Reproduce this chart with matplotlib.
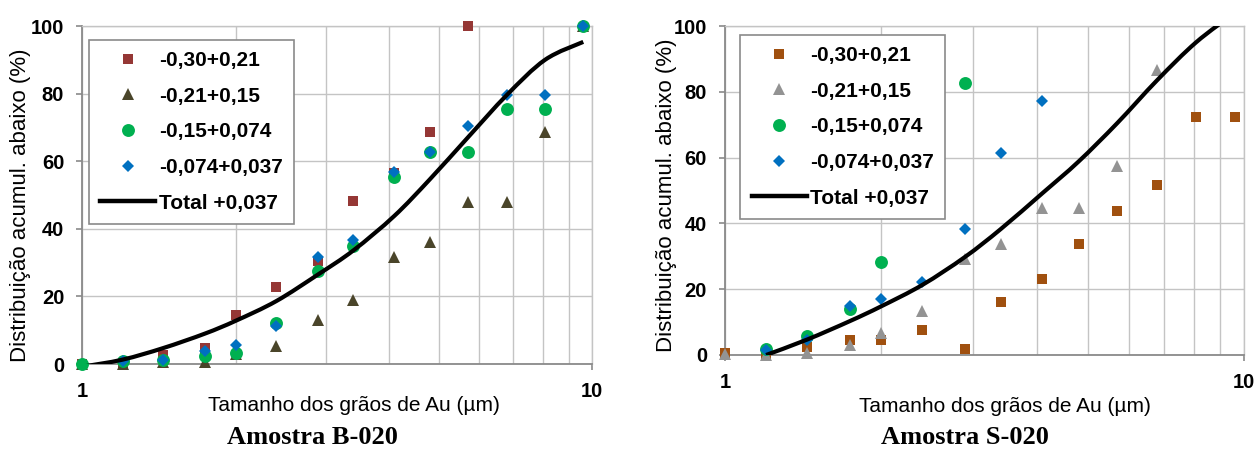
import numpy as np
import matplotlib.pyplot as plt
from matplotlib.path import Path
from matplotlib.patches import PathPatch
from matplotlib.lines import Line2D
from matplotlib.ticker import FixedLocator, NullFormatter

nan = float("nan")

#---------------------------- data ----------------------------
# grain size classes (um), shared by both samples
sizes_um = [1.0, 1.2, 1.44, 1.74, 2.0, 2.4, 2.9, 3.4, 4.09, 4.8, 5.7, 6.8, 8.08, 9.6]

series_labels = ["-0,30+0,21", "-0,21+0,15", "-0,15+0,074", "-0,074+0,037"]
total_label = "Total +0,037"

# Amostra B-020
b020_030_021 = [0, 0, 2.8, 4.7, 14.6, 22.7, 30.6, 48.3, 56.4, 68.7, 100, nan, nan, nan]
b020_021_015 = [0, 0, 0.5, 0.5, 3.0, 5.2, 12.9, 19.0, 31.8, 36.2, 48.0, 48.0, 68.7, 100]
b020_015_0074 = [0, 0.8, 1.3, 2.3, 3.4, 12.1, 27.4, 34.9, 55.2, 62.6, 62.6, 75.4, 75.4, 100]
b020_0074_0037 = [nan, 0.8, 1.3, 3.7, 5.7, 11.3, 31.8, 36.7, 56.9, 62.8, 70.4, 79.7, 79.7, 100]
b020_total = [-0.8, 1.3, 4.7, 9.0, 12.8, 18.6, 26.5, 33.6, 43.8, 54.6, 67.0, 79.6, 90.0, 95.3]

# Amostra S-020
s020_030_021 = [0.5, 0, 2.4, 4.7, 4.5, 7.5, 1.9, 16.2, 23.1, 33.7, 43.7, 51.6, 72.4, 72.4]
s020_021_015 = [0.2, 0, 0.7, 3.0, 6.8, 13.3, 29.3, 33.7, 44.6, 44.6, 57.3, 86.6, nan, nan]
s020_015_0074 = [nan, 1.9, 5.8, 14.1, 28.3, nan, 82.7, nan, nan, nan, nan, nan, nan, nan]
s020_0074_0037 = [nan, 1.5, 4.7, 14.8, 16.9, 22.2, 38.4, 61.5, 77.3, nan, nan, nan, nan, nan]
s020_total = [nan, 0, 4.7, 10.3, 14.8, 21.3, 29.8, 38.3, 49.2, 58.8, 70.5, 83.5, 95.0, 104]

#---------------------------- style ----------------------------
plt.rcParams["font.family"] = ["Liberation Sans", "DejaVu Sans"]
grid_color = "#c4c4c4"
axis_color = "#8a8a8a"
markers = ["s", "^", "o", "D"]
msizes = [7.5, 8.6, 9.3, 6.6]
colors_b = ["#953735", "#4a452a", "#00b050", "#0070c0"]
colors_s = ["#a0500f", "#939393", "#00b050", "#0070c0"]


def smooth_path(xs, ys):
    # excel-like smoothed line: catmull-rom bezier in (log x, y)
    pts = np.column_stack([np.log10(xs), ys])
    verts = [pts[0]]
    codes = [Path.MOVETO]
    n = len(pts)
    for i in range(n - 1):
        p0 = pts[i - 1] if i > 0 else pts[i]
        p1, p2 = pts[i], pts[i + 1]
        p3 = pts[i + 2] if i + 2 < n else pts[i + 1]
        verts += [p1 + (p2 - p0) / 6.0, p2 - (p3 - p1) / 6.0, p2]
        codes += [Path.CURVE4] * 3
    verts = np.array(verts)
    verts[:, 0] = 10 ** verts[:, 0]
    return Path(verts, codes)


def draw_panel(ax, series, total, colors, leg_anchor, ylab_pos, xlab_pos):
    handles = []
    for vals, mk, ms, col, lab in zip(series, markers, msizes, colors, series_labels):
        h, = ax.plot(sizes_um, vals, linestyle="none", marker=mk, markersize=ms,
                     color=col, markeredgewidth=0, label=lab, zorder=3, clip_on=False)
        handles.append(h)
    xs = np.array(sizes_um)
    ys = np.array(total, dtype=float)
    ok = ~np.isnan(ys)
    ax.add_patch(PathPatch(smooth_path(xs[ok], ys[ok]), facecolor="none", edgecolor="black",
                           lw=3, zorder=4, capstyle="butt"))
    handles.append(Line2D([], [], color="black", lw=3.2))

    ax.set_xscale("log")
    ax.set_xlim(1, 10)
    ax.set_ylim(0, 100)
    ax.xaxis.set_major_locator(FixedLocator([1, 10]))
    ax.xaxis.set_minor_locator(FixedLocator([2, 3, 4, 5, 6, 7, 8, 9]))
    ax.xaxis.set_minor_formatter(NullFormatter())
    ax.set_xticklabels(["1", "10"])
    ax.set_yticks([0, 20, 40, 60, 80, 100])
    ax.grid(True, which="both", color=grid_color, lw=1.0, zorder=0)
    ax.set_axisbelow(True)
    for side in ["top", "right"]:
        ax.spines[side].set_color(grid_color)
        ax.spines[side].set_linewidth(1.0)
    for side in ["left", "bottom"]:
        ax.spines[side].set_color(axis_color)
        ax.spines[side].set_linewidth(1.3)
    ax.tick_params(which="major", direction="out", length=4.5, width=1.2, color=axis_color,
                   labelsize=14.5, pad=8.5)
    ax.tick_params(which="minor", length=0)
    for t in ax.get_xticklabels() + ax.get_yticklabels():
        t.set_fontweight("bold")

    ax.set_xlabel("Tamanho dos grãos de Au (µm)", fontsize=15)
    ax.xaxis.set_label_coords(*xlab_pos)
    ax.xaxis.label.set_va("center")
    ax.set_ylabel("Distribuição acumul. abaixo (%)", fontsize=16)
    ax.yaxis.set_label_coords(*ylab_pos)
    ax.yaxis.label.set_va("center")

    leg = ax.legend(handles, series_labels + [total_label], loc="upper left",
                    bbox_to_anchor=leg_anchor, borderaxespad=0, fancybox=False,
                    framealpha=1, edgecolor=axis_color, prop={"weight": "bold", "size": 15},
                    handlelength=2.64, handletextpad=0.17, labelspacing=0.8,
                    borderpad=0.55, markerscale=1.0)
    leg.get_frame().set_linewidth(1.2)
    leg.set_zorder(6)


#---------------------------- figure ----------------------------
fig = plt.figure(figsize=(12.58, 4.49), dpi=100)
ax_b = fig.add_axes([82.3 / 1258, 1 - 364 / 449, 510 / 1258, 338 / 449])
ax_s = fig.add_axes([725 / 1258, 1 - 355 / 449, 519 / 1258, 329 / 449])

draw_panel(ax_b, [b020_030_021, b020_021_015, b020_015_0074, b020_0074_0037], b020_total,
           colors_b, (0.0125, 0.96), (-0.122, 0.47), (0.533, -0.124))
draw_panel(ax_s, [s020_030_021, s020_021_015, s020_015_0074, s020_0074_0037], s020_total,
           colors_s, (0.029, 0.974), (-0.112, 0.486), (0.539, -0.158))

fig.text(312 / 1258, 1 - 437 / 449, "Amostra B-020", ha="center", va="center",
         family="Liberation Serif", weight="bold", fontsize=19)
fig.text(965 / 1258, 1 - 437 / 449, "Amostra S-020", ha="center", va="center",
         family="Liberation Serif", weight="bold", fontsize=19)

fig.savefig("out.png", dpi=100)
